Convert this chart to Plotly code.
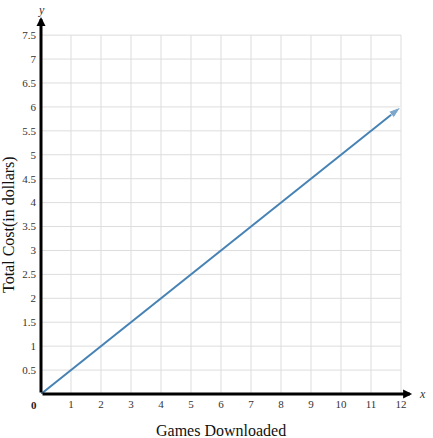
import plotly.graph_objects as go

# Data
games = [0, 12]
cost = [0, 6]
x_ticks = [1, 2, 3, 4, 5, 6, 7, 8, 9, 10, 11, 12]
y_ticks = [0.5, 1, 1.5, 2, 2.5, 3, 3.5, 4, 4.5, 5, 5.5, 6, 6.5, 7, 7.5]
x_title = "Games Downloaded"
y_title = "Total Cost(in dollars)"

FONT = "Liberation Serif, DejaVu Serif, serif"
XMAX, YMAX = 12.4, 7.9

fig = go.Figure()

# grid
shapes = []
for xv in x_ticks:
    shapes.append(dict(type="line", x0=xv, x1=xv, y0=0, y1=max(y_ticks),
                       xref="x", yref="y", line=dict(color="#dddddd", width=1), layer="below"))
for yv in y_ticks:
    shapes.append(dict(type="line", x0=0, x1=max(x_ticks), y0=yv, y1=yv,
                       xref="x", yref="y", line=dict(color="#dddddd", width=1), layer="below"))

fig.add_trace(go.Scatter(
    x=games, y=cost, mode="lines+markers",
    line=dict(color="#4682b4", width=2),
    marker=dict(symbol="arrow", angleref="previous", size=[0, 13], color="#4682b4"),
    hoverinfo="skip", showlegend=False, cliponaxis=False,
))

annotations = [
    # x axis arrow
    dict(x=12.37, y=0, ax=0, ay=0, xref="x", yref="y", axref="x", ayref="y",
         showarrow=True, arrowhead=2, arrowsize=0.6, arrowwidth=3, arrowcolor="black", text=""),
    # y axis arrow
    dict(x=0, y=7.88, ax=0, ay=0, xref="x", yref="y", axref="x", ayref="y",
         showarrow=True, arrowhead=2, arrowsize=0.6, arrowwidth=3, arrowcolor="black", text=""),
    dict(x=12.37, y=0, xref="x", yref="y", text="<i>x</i>", showarrow=False,
         xanchor="left", yanchor="middle", xshift=5, font=dict(family=FONT, size=12, color="#333")),
    dict(x=0, y=7.88, xref="x", yref="y", text="<i>y</i>", showarrow=False,
         xanchor="center", yanchor="bottom", yshift=-2, font=dict(family=FONT, size=12, color="#333")),
    dict(x=0, y=0, xref="x", yref="y", text="<b>0</b>", showarrow=False,
         xanchor="right", yanchor="top", xshift=-2, yshift=-3, font=dict(family=FONT, size=11, color="#222")),
    dict(x=0.5, y=0, xref="paper", yref="paper", text=x_title, showarrow=False,
         xanchor="center", yanchor="middle", xshift=-6, yshift=-36, font=dict(family=FONT, size=16, color="#111")),
    dict(x=0, y=0.5, xref="paper", yref="paper", text=y_title, showarrow=False, textangle=-90,
         xanchor="center", yanchor="middle", xshift=-32, yshift=-20, font=dict(family=FONT, size=16, color="#111")),
]

fig.update_layout(
    width=433, height=438,
    margin=dict(l=41, r=20, t=16, b=44, autoexpand=False),
    paper_bgcolor="white", plot_bgcolor="white",
    shapes=shapes, annotations=annotations,
    font=dict(family=FONT, color="#333"),
    xaxis=dict(range=[0, XMAX], tickvals=x_ticks, ticktext=[str(v) for v in x_ticks],
               showgrid=False, zeroline=False, showline=False, ticks="", automargin=False,
               ticklabelstandoff=2, tickfont=dict(size=11, color="#333")),
    yaxis=dict(range=[0, YMAX], tickvals=y_ticks, ticktext=[str(v) for v in y_ticks],
               showgrid=False, zeroline=False, showline=False, ticks="", automargin=False,
               ticklabelstandoff=4, tickfont=dict(size=11, color="#333")),
)

fig.write_html("out.html", config={"displayModeBar": False},
               post_script="document.body.style.margin='0';")
